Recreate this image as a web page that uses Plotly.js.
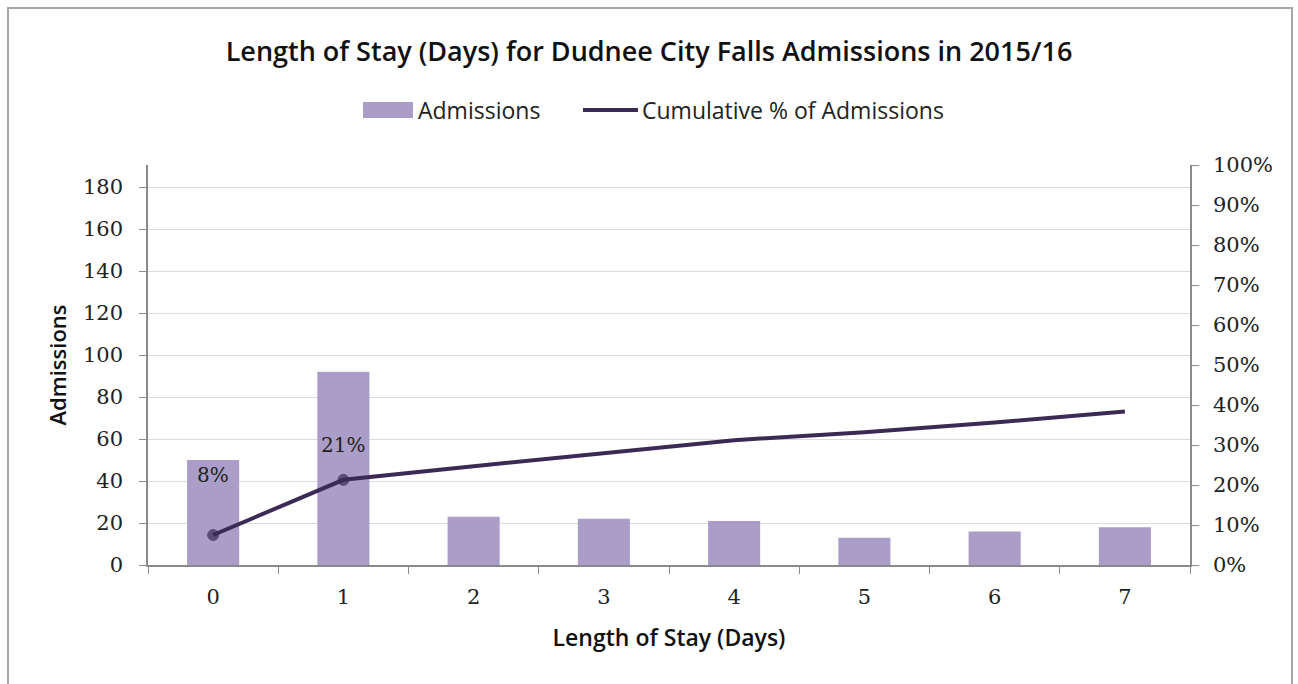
<!DOCTYPE html>
<html>
<head>
<meta charset="utf-8">
<script src="https://cdn.plot.ly/plotly-3.0.1.min.js"></script>
<style>
html,body{margin:0;padding:0;background:#fff;}
#chart{width:1298px;height:684px;}
</style>
</head>
<body>
<div id="chart"></div>
<script>
var days = ['0','1','2','3','4','5','6','7'];
var admissions = [50, 92, 23, 22, 21, 13, 16, 18];
var cumulativePct = [0.075, 0.213, 0.247, 0.280, 0.312, 0.332, 0.356, 0.384];
var labelledPoints = [0, 1];

var titleText = 'Length of Stay (Days) for Dudnee City Falls Admissions in 2015/16';
var xTitle = 'Length of Stay (Days)';
var yTitle = 'Admissions';
var barName = 'Admissions';
var lineName = 'Cumulative % of Admissions';

var sansFont = 'Open Sans, Lato, sans-serif';
var serifFont = 'DejaVu Serif, Liberation Serif, serif';
var barColor = '#aa9ec8';
var lineColor = '#3b2a55';

// plot area in pixels: left 148, right 1190, top 165, bottom 565
var PL = 148, PW = 1042, PB = 565, PH = 400;
function px(x){ return (x - PL) / PW; }
function py(y){ return (PB - y) / PH; }

var markerSizes = days.map(function(d, i){ return labelledPoints.indexOf(i) >= 0 ? 11 : 0; });

var traces = [
  {
    type: 'bar', x: days, y: admissions, name: barName,
    marker: {color: barColor}, hoverinfo: 'x+y'
  },
  {
    type: 'scatter', mode: 'lines+markers', x: days, y: cumulativePct, name: lineName,
    yaxis: 'y2', line: {color: lineColor, width: 4},
    marker: {color: lineColor, size: markerSizes, line: {color: lineColor, width: 1}}
  }
];

var labelShifts = [60, 35];
var annotations = labelledPoints.map(function(i, k){
  return {
    x: days[i], y: cumulativePct[i], xref: 'x', yref: 'y2',
    text: Math.round(cumulativePct[i] * 100) + '%',
    showarrow: false, yshift: labelShifts[k],
    font: {family: serifFont, size: 20, color: '#222'}
  };
});

// manual legend
annotations.push({
  xref: 'paper', yref: 'paper', x: px(416), y: py(110), xanchor: 'left', yanchor: 'middle',
  text: barName, showarrow: false, font: {family: sansFont, size: 23, color: '#222'}
});
annotations.push({
  xref: 'paper', yref: 'paper', x: px(640), y: py(110), xanchor: 'left', yanchor: 'middle',
  text: lineName, showarrow: false, font: {family: sansFont, size: 23, color: '#222'}
});

var shapes = [
  {
    type: 'rect', xref: 'paper', yref: 'paper',
    x0: px(8), x1: px(1292), y0: py(700), y1: py(8),
    line: {color: '#a6a6a6', width: 2}, layer: 'below'
  },
  {
    type: 'rect', xref: 'paper', yref: 'paper',
    x0: px(363), x1: px(413), y0: py(118), y1: py(102),
    fillcolor: barColor, line: {width: 0}
  },
  {
    type: 'line', xref: 'paper', yref: 'paper',
    x0: px(583), x1: px(638), y0: py(110), y1: py(110),
    line: {color: lineColor, width: 4}
  }
];

var layout = {
  width: 1298, height: 684,
  paper_bgcolor: '#fff', plot_bgcolor: '#fff',
  margin: {l: 148, r: 108, t: 165, b: 119},
  title: {
    text: titleText, x: 0.5, xanchor: 'center', y: 1 - 52/684, yanchor: 'middle',
    font: {family: sansFont, size: 27, color: '#111', weight: 600}
  },
  showlegend: false,
  bargap: 0.6,
  xaxis: {
    type: 'category', showline: true, linecolor: '#8a8a8a', linewidth: 1.5,
    ticks: 'outside', tickson: 'boundaries', ticklen: 7, tickcolor: '#8a8a8a',
    tickfont: {family: serifFont, size: 21, color: '#222'}, ticklabelstandoff: 12,
    showgrid: false, zeroline: false,
    title: {text: xTitle, font: {family: sansFont, size: 23, color: '#111', weight: 600}, standoff: 22}
  },
  yaxis: {
    range: [0, 190.5], dtick: 20, tick0: 0,
    showline: true, linecolor: '#8a8a8a', linewidth: 1.5,
    ticks: 'outside', ticklen: 7, tickcolor: '#8a8a8a',
    tickfont: {family: serifFont, size: 21, color: '#222'}, ticklabelstandoff: 12,
    showgrid: true, gridcolor: '#dcdcdc', gridwidth: 1, zeroline: false,
    title: {text: yTitle, font: {family: sansFont, size: 22, color: '#111', weight: 600}, standoff: 10}
  },
  yaxis2: {
    overlaying: 'y', side: 'right', range: [0, 1], dtick: 0.1, tick0: 0, tickformat: '.0%',
    showline: true, linecolor: '#8a8a8a', linewidth: 1.5,
    ticks: 'outside', ticklen: 7, tickcolor: '#8a8a8a',
    tickfont: {family: serifFont, size: 21, color: '#222'}, ticklabelstandoff: 10,
    showgrid: false, zeroline: false
  },
  annotations: annotations,
  shapes: shapes
};

Plotly.newPlot('chart', traces, layout, {displayModeBar: false, responsive: false});
</script>
</body>
</html>
